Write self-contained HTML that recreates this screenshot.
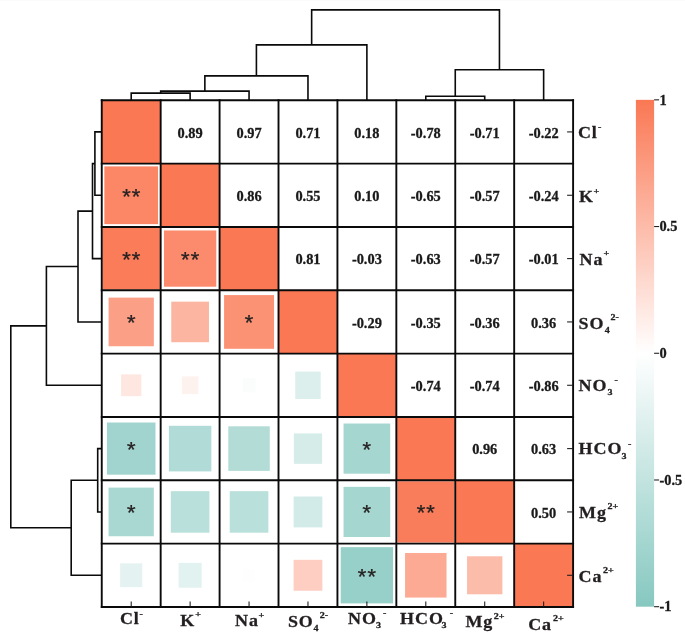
<!DOCTYPE html>
<html><head><meta charset="utf-8"><title>Correlation heatmap</title>
<style>
html,body{margin:0;padding:0;background:#fff}
svg{display:block}
text{font-family:"Liberation Serif",serif;font-weight:bold;fill:#231f20}
.num{font-size:14.7px;fill:#1a1a1a;stroke:#1a1a1a;stroke-width:0.3px}
.lb{font-size:18px;stroke:#231f20;stroke-width:0.3px;letter-spacing:0.9px}
.ss{font-size:9.3px;stroke:#231f20;stroke-width:0.3px}
.st{font-family:"Liberation Mono",monospace;font-weight:normal;font-size:22.5px;fill:#262222;stroke:#262222;stroke-width:0.25px}
.g{stroke:#0a0a0a;stroke-width:1.9;fill:none}
.t{stroke:#1a1a1a;stroke-width:1.05;fill:none}
.d{stroke:#0a0a0a;stroke-width:1.6;fill:none;stroke-linejoin:miter}
</style></head>
<body>
<svg width="685" height="633" viewBox="0 0 685 633">
<defs><linearGradient id="cb" x1="0" y1="0" x2="0" y2="1"><stop offset="0" stop-color="#fa7854"/><stop offset="0.5" stop-color="#ffffff"/><stop offset="1" stop-color="#86c8c0"/></linearGradient></defs>
<rect width="685" height="633" fill="#fff"/>
<rect width="685" height="1" fill="#fafafa"/>
<rect x="101.75" y="100.25" width="58.92" height="63.34" fill="#fa7854"/>
<text class="num" transform="translate(190.13 137.77) scale(0.98 1.05)" text-anchor="middle">0.89</text>
<text class="num" transform="translate(249.05 137.77) scale(0.98 1.05)" text-anchor="middle">0.97</text>
<text class="num" transform="translate(307.97 137.77) scale(0.98 1.05)" text-anchor="middle">0.71</text>
<text class="num" transform="translate(366.88 137.77) scale(0.98 1.05)" text-anchor="middle">0.18</text>
<text class="num" transform="translate(425.80 137.77) scale(0.98 1.05)" text-anchor="middle">-0.78</text>
<text class="num" transform="translate(484.72 137.77) scale(0.98 1.05)" text-anchor="middle">-0.71</text>
<text class="num" transform="translate(543.64 137.77) scale(0.98 1.05)" text-anchor="middle">-0.22</text>
<rect x="104.34" y="166.37" width="53.73" height="57.76" fill="#fb8767"/>
<text class="st" x="126.41 136.01" y="204.66" text-anchor="middle">**</text>
<rect x="160.67" y="163.59" width="58.92" height="63.34" fill="#fa7854"/>
<text class="num" transform="translate(249.05 201.11) scale(0.98 1.05)" text-anchor="middle">0.86</text>
<text class="num" transform="translate(307.97 201.11) scale(0.98 1.05)" text-anchor="middle">0.55</text>
<text class="num" transform="translate(366.88 201.11) scale(0.98 1.05)" text-anchor="middle">0.10</text>
<text class="num" transform="translate(425.80 201.11) scale(0.98 1.05)" text-anchor="middle">-0.65</text>
<text class="num" transform="translate(484.72 201.11) scale(0.98 1.05)" text-anchor="middle">-0.57</text>
<text class="num" transform="translate(543.64 201.11) scale(0.98 1.05)" text-anchor="middle">-0.24</text>
<rect x="102.46" y="227.69" width="57.50" height="61.82" fill="#fa7c59"/>
<text class="st" x="126.41 136.01" y="267.99" text-anchor="middle">**</text>
<rect x="163.97" y="230.47" width="52.32" height="56.24" fill="#fb8b6c"/>
<text class="st" x="185.33 194.93" y="267.99" text-anchor="middle">**</text>
<rect x="219.59" y="226.93" width="58.92" height="63.34" fill="#fa7854"/>
<text class="num" transform="translate(307.97 264.44) scale(0.98 1.05)" text-anchor="middle">0.81</text>
<text class="num" transform="translate(366.88 264.44) scale(0.98 1.05)" text-anchor="middle">-0.03</text>
<text class="num" transform="translate(425.80 264.44) scale(0.98 1.05)" text-anchor="middle">-0.63</text>
<text class="num" transform="translate(484.72 264.44) scale(0.98 1.05)" text-anchor="middle">-0.57</text>
<text class="num" transform="translate(543.64 264.44) scale(0.98 1.05)" text-anchor="middle">-0.01</text>
<rect x="108.58" y="297.61" width="45.25" height="48.64" fill="#fb9f86"/>
<text class="st" x="131.21" y="331.33" text-anchor="middle">*</text>
<rect x="171.27" y="301.66" width="37.71" height="40.54" fill="#fcb5a1"/>
<rect x="224.07" y="295.08" width="49.96" height="53.71" fill="#fb9274"/>
<text class="st" x="249.05" y="331.33" text-anchor="middle">*</text>
<rect x="278.51" y="290.26" width="58.92" height="63.34" fill="#fa7854"/>
<text class="num" transform="translate(366.88 327.78) scale(0.98 1.05)" text-anchor="middle">-0.29</text>
<text class="num" transform="translate(425.80 327.78) scale(0.98 1.05)" text-anchor="middle">-0.35</text>
<text class="num" transform="translate(484.72 327.78) scale(0.98 1.05)" text-anchor="middle">-0.36</text>
<text class="num" transform="translate(543.64 327.78) scale(0.98 1.05)" text-anchor="middle">0.36</text>
<rect x="121.08" y="374.37" width="20.27" height="21.79" fill="#fee7e0"/>
<rect x="181.88" y="376.40" width="16.50" height="17.73" fill="#fef2ee"/>
<rect x="242.45" y="378.17" width="13.20" height="14.19" fill="#fbfdfd"/>
<rect x="295.24" y="371.59" width="25.45" height="27.36" fill="#dcefed"/>
<rect x="337.43" y="353.60" width="58.92" height="63.34" fill="#fa7854"/>
<text class="num" transform="translate(425.80 391.12) scale(0.98 1.05)" text-anchor="middle">-0.74</text>
<text class="num" transform="translate(484.72 391.12) scale(0.98 1.05)" text-anchor="middle">-0.74</text>
<text class="num" transform="translate(543.64 391.12) scale(0.98 1.05)" text-anchor="middle">-0.86</text>
<rect x="106.93" y="422.51" width="48.55" height="52.19" fill="#a1d4ce"/>
<text class="st" x="131.21" y="458.01" text-anchor="middle">*</text>
<rect x="168.92" y="425.80" width="42.42" height="45.60" fill="#b0dbd6"/>
<rect x="228.31" y="426.31" width="41.48" height="44.59" fill="#b3dcd7"/>
<rect x="293.83" y="433.41" width="28.28" height="30.40" fill="#d5ece9"/>
<rect x="343.55" y="423.52" width="46.66" height="50.16" fill="#a5d6d0"/>
<text class="st" x="366.88" y="458.01" text-anchor="middle">*</text>
<rect x="396.34" y="416.94" width="58.92" height="63.34" fill="#fa7854"/>
<text class="num" transform="translate(484.72 454.46) scale(0.98 1.05)" text-anchor="middle">0.96</text>
<text class="num" transform="translate(543.64 454.46) scale(0.98 1.05)" text-anchor="middle">0.63</text>
<rect x="108.58" y="487.62" width="45.25" height="48.64" fill="#a9d8d2"/>
<text class="st" x="131.21" y="521.34" text-anchor="middle">*</text>
<rect x="170.80" y="491.17" width="38.65" height="41.55" fill="#bae0db"/>
<rect x="229.72" y="491.17" width="38.65" height="41.55" fill="#bae0db"/>
<rect x="293.59" y="496.49" width="28.75" height="30.91" fill="#d3ebe8"/>
<rect x="343.55" y="486.86" width="46.66" height="50.16" fill="#a5d6d0"/>
<text class="st" x="366.88" y="521.34" text-anchor="middle">*</text>
<rect x="397.29" y="481.29" width="57.03" height="61.31" fill="#fa7d5b"/>
<text class="st" x="421.00 430.60" y="521.34" text-anchor="middle">**</text>
<rect x="455.26" y="480.28" width="58.92" height="63.34" fill="#fa7854"/>
<text class="num" transform="translate(543.64 517.79) scale(0.98 1.05)" text-anchor="middle">0.50</text>
<rect x="120.13" y="563.37" width="22.15" height="23.81" fill="#e4f3f1"/>
<rect x="178.58" y="562.87" width="23.10" height="24.83" fill="#e2f2f0"/>
<rect x="242.92" y="568.69" width="12.26" height="13.17" fill="#fefefe"/>
<rect x="293.59" y="559.83" width="28.75" height="30.91" fill="#fdcec1"/>
<rect x="340.72" y="547.16" width="52.32" height="56.24" fill="#97d0c9"/>
<text class="st" x="362.08 371.68" y="584.68" text-anchor="middle">**</text>
<rect x="405.06" y="552.99" width="41.48" height="44.59" fill="#fcaa93"/>
<rect x="467.05" y="556.28" width="35.35" height="38.00" fill="#fcbcaa"/>
<rect x="514.18" y="543.61" width="58.92" height="63.34" fill="#fa7854"/>
<line x1="101.75" y1="99.30" x2="101.75" y2="607.90" class="g"/>
<line x1="100.80" y1="100.25" x2="574.05" y2="100.25" class="g"/>
<line x1="160.67" y1="99.30" x2="160.67" y2="607.90" class="g"/>
<line x1="100.80" y1="163.59" x2="574.05" y2="163.59" class="g"/>
<line x1="219.59" y1="99.30" x2="219.59" y2="607.90" class="g"/>
<line x1="100.80" y1="226.93" x2="574.05" y2="226.93" class="g"/>
<line x1="278.51" y1="99.30" x2="278.51" y2="607.90" class="g"/>
<line x1="100.80" y1="290.26" x2="574.05" y2="290.26" class="g"/>
<line x1="337.43" y1="99.30" x2="337.43" y2="607.90" class="g"/>
<line x1="100.80" y1="353.60" x2="574.05" y2="353.60" class="g"/>
<line x1="396.34" y1="99.30" x2="396.34" y2="607.90" class="g"/>
<line x1="100.80" y1="416.94" x2="574.05" y2="416.94" class="g"/>
<line x1="455.26" y1="99.30" x2="455.26" y2="607.90" class="g"/>
<line x1="100.80" y1="480.28" x2="574.05" y2="480.28" class="g"/>
<line x1="514.18" y1="99.30" x2="514.18" y2="607.90" class="g"/>
<line x1="100.80" y1="543.61" x2="574.05" y2="543.61" class="g"/>
<line x1="573.10" y1="99.30" x2="573.10" y2="607.90" class="g"/>
<line x1="100.80" y1="606.95" x2="574.05" y2="606.95" class="g"/>
<line x1="567.10" y1="131.92" x2="573.10" y2="131.92" class="t"/>
<line x1="131.21" y1="601.45" x2="131.21" y2="606.95" class="t"/>
<line x1="567.10" y1="195.26" x2="573.10" y2="195.26" class="t"/>
<line x1="190.13" y1="601.45" x2="190.13" y2="606.95" class="t"/>
<line x1="567.10" y1="258.59" x2="573.10" y2="258.59" class="t"/>
<line x1="249.05" y1="601.45" x2="249.05" y2="606.95" class="t"/>
<line x1="567.10" y1="321.93" x2="573.10" y2="321.93" class="t"/>
<line x1="307.97" y1="601.45" x2="307.97" y2="606.95" class="t"/>
<line x1="567.10" y1="385.27" x2="573.10" y2="385.27" class="t"/>
<line x1="366.88" y1="601.45" x2="366.88" y2="606.95" class="t"/>
<line x1="567.10" y1="448.61" x2="573.10" y2="448.61" class="t"/>
<line x1="425.80" y1="601.45" x2="425.80" y2="606.95" class="t"/>
<line x1="567.10" y1="511.94" x2="573.10" y2="511.94" class="t"/>
<line x1="484.72" y1="601.45" x2="484.72" y2="606.95" class="t"/>
<line x1="567.10" y1="575.28" x2="573.10" y2="575.28" class="t"/>
<line x1="543.64" y1="601.45" x2="543.64" y2="606.95" class="t"/>
<path d="M131.21 100.25V93.10H190.13V100.25" class="d"/>
<path d="M160.67 93.10V91.10H249.05V100.25" class="d"/>
<path d="M204.86 91.10V75.90H307.97V100.25" class="d"/>
<path d="M256.41 75.90V44.90H366.88V100.25" class="d"/>
<path d="M425.80 100.25V96.30H484.72V100.25" class="d"/>
<path d="M455.26 96.30V69.80H543.64V100.25" class="d"/>
<path d="M311.65 44.90V9.85H499.45V69.80" class="d"/>
<path d="M101.75 131.92H94.90V195.26H101.75" class="d"/>
<path d="M94.90 163.59H92.50V258.59H101.75" class="d"/>
<path d="M92.50 211.09H78.00V321.93H101.75" class="d"/>
<path d="M78.00 266.51H46.40V385.27H101.75" class="d"/>
<path d="M101.75 448.61H97.70V511.94H101.75" class="d"/>
<path d="M97.70 480.28H71.20V575.28H101.75" class="d"/>
<path d="M46.40 325.89H10.80V527.78H71.20" class="d"/>
<rect x="635.9" y="99.85" width="18.20" height="506.85" fill="url(#cb)"/>
<line x1="654.1" y1="99.85" x2="659.10" y2="99.85" class="t"/>
<text class="num" transform="translate(659.40 104.60) scale(0.98 1.05)">1</text>
<line x1="654.1" y1="226.56" x2="659.10" y2="226.56" class="t"/>
<text class="num" transform="translate(659.40 231.31) scale(0.98 1.05)">0.5</text>
<line x1="654.1" y1="353.27" x2="659.10" y2="353.27" class="t"/>
<text class="num" transform="translate(659.40 358.02) scale(0.98 1.05)">0</text>
<line x1="654.1" y1="479.99" x2="659.10" y2="479.99" class="t"/>
<text class="num" transform="translate(659.40 484.74) scale(0.98 1.05)">-0.5</text>
<line x1="654.1" y1="606.70" x2="659.10" y2="606.70" class="t"/>
<text class="num" transform="translate(659.40 611.45) scale(0.98 1.05)">-1</text>
<text class="lb" transform="translate(119.90 624.30) scale(1.0 0.975)">Cl</text>
<text class="ss" transform="translate(139.60 616.50) scale(1.08 0.97)">-</text>
<text class="lb" transform="translate(180.20 626.10) scale(1.0 0.975)">K</text>
<text class="ss" transform="translate(195.20 617.30) scale(1.08 0.97)">+</text>
<text class="lb" transform="translate(235.10 626.40) scale(1.0 0.975)">Na</text>
<text class="ss" transform="translate(258.60 617.60) scale(1.08 0.97)">+</text>
<text class="lb" transform="translate(287.90 626.90) scale(1.0 0.975)">SO</text>
<text class="ss" transform="translate(313.40 631.20) scale(1.08 0.97)">4</text>
<text class="ss" transform="translate(319.80 618.10) scale(1.08 0.97)">2-</text>
<text class="lb" transform="translate(348.00 623.80) scale(1.0 0.975)">NO</text>
<text class="ss" transform="translate(376.00 628.10) scale(1.08 0.97)">3</text>
<text class="ss" transform="translate(383.00 616.00) scale(1.08 0.97)">-</text>
<text class="lb" transform="translate(400.10 623.80) scale(1.0 0.975)">HCO</text>
<text class="ss" transform="translate(441.60 628.10) scale(1.08 0.97)">3</text>
<text class="ss" transform="translate(449.70 616.00) scale(1.08 0.97)">-</text>
<text class="lb" transform="translate(465.40 627.30) scale(1.0 0.975)">Mg</text>
<text class="ss" transform="translate(493.80 618.50) scale(1.08 0.97)">2+</text>
<text class="lb" transform="translate(528.20 629.90) scale(1.0 0.975)">Ca</text>
<text class="ss" transform="translate(553.00 621.10) scale(1.08 0.97)">2+</text>
<text class="lb" transform="translate(577.90 138.10) scale(1.0 0.975)">Cl</text>
<text class="ss" transform="translate(597.90 130.30) scale(1.08 0.97)">-</text>
<text class="lb" transform="translate(579.10 202.40) scale(1.0 0.975)">K</text>
<text class="ss" transform="translate(593.50 193.60) scale(1.08 0.97)">+</text>
<text class="lb" transform="translate(579.60 264.70) scale(1.0 0.975)">Na</text>
<text class="ss" transform="translate(603.40 255.90) scale(1.08 0.97)">+</text>
<text class="lb" transform="translate(578.60 328.90) scale(1.0 0.975)">SO</text>
<text class="ss" transform="translate(604.80 333.20) scale(1.08 0.97)">4</text>
<text class="ss" transform="translate(610.60 320.10) scale(1.08 0.97)">2-</text>
<text class="lb" transform="translate(578.60 390.70) scale(1.0 0.975)">NO</text>
<text class="ss" transform="translate(607.60 395.00) scale(1.08 0.97)">3</text>
<text class="ss" transform="translate(614.40 382.90) scale(1.08 0.97)">-</text>
<text class="lb" transform="translate(578.60 454.40) scale(1.0 0.975)">HCO</text>
<text class="ss" transform="translate(621.50 458.70) scale(1.08 0.97)">3</text>
<text class="ss" transform="translate(628.00 446.60) scale(1.08 0.97)">-</text>
<text class="lb" transform="translate(579.10 517.70) scale(1.0 0.975)">Mg</text>
<text class="ss" transform="translate(607.50 508.90) scale(1.08 0.97)">2+</text>
<text class="lb" transform="translate(578.50 581.90) scale(1.0 0.975)">Ca</text>
<text class="ss" transform="translate(603.10 573.10) scale(1.08 0.97)">2+</text>
</svg>
</body></html>
